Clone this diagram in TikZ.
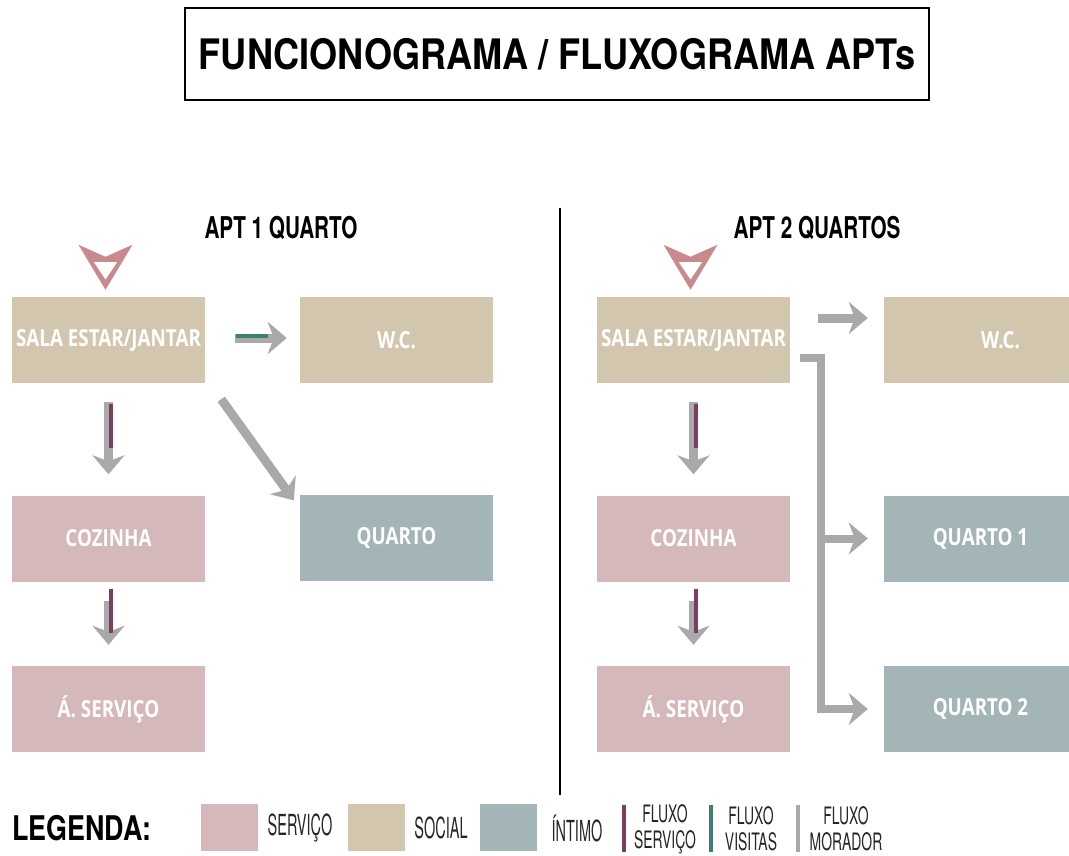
\documentclass[tikz,border=0pt]{standalone}
\usepackage{fontspec}
\setmainfont{TeX Gyre Heros}
\newfontfamily\boxfont{Open Sans}
\usetikzlibrary{arrows.meta,calc}
\definecolor{servico}{HTML}{D4B8BA}
\definecolor{social}{HTML}{D3C6AF}
\definecolor{intimo}{HTML}{A3B5B6}
\definecolor{tri}{HTML}{C98A8D}
\definecolor{fservico}{HTML}{7D3D5E}
\definecolor{fvisitas}{HTML}{3E7F74}
\definecolor{fmorador}{HTML}{A9A9A9}
\definecolor{legtext}{HTML}{262626}
\newcommand\roomlbl[1]{\scalebox{0.8}[1]{#1}}
\newcommand\leglbl[1]{\scalebox{0.5}[1]{#1}}
\newcommand\flxlbl[1]{\scalebox{0.58}[1]{#1}}
\begin{document}
\begin{tikzpicture}[x=1pt,y=-1pt,
  room/.style={rectangle, minimum width=193pt, minimum height=86pt, inner sep=0pt,
    text=white, font=\boxfont\bfseries\fontsize{23.5}{23.5}\selectfont},
  srv/.style={room, fill=servico},
  soc/.style={room, fill=social},
  inti/.style={room, fill=intimo},
  flow/.style={draw=fmorador, line width=9pt, line cap=butt, line join=miter,
    -{Stealth[length=19pt, width=32pt, inset=6pt, fill=fmorador]}},
  stripe/.style={line width=4.5pt, line cap=butt},
  swatch/.style={rectangle, minimum width=57pt, minimum height=47pt, inner sep=0pt},
  legbar/.style={rectangle, minimum width=4pt, minimum height=47pt, inner sep=0pt},
  legtxt/.style={text=legtext, font=\fontsize{29}{29}\selectfont, inner sep=0pt},
  fltxt/.style={text=legtext, font=\fontsize{24}{26}\selectfont, inner sep=0pt, align=center},
  apt/.style={font=\bfseries\fontsize{30}{30}\selectfont, inner sep=0pt}
]
\useasboundingbox (0,0) rectangle (1069,856);
\clip (0,0) rectangle (1069,856);
\fill[white] (0,0) rectangle (1069,856);

% title
\node[draw=black, line width=2.5pt, minimum width=744pt, minimum height=92pt, inner sep=0pt,
  font=\bfseries\fontsize{42}{42}\selectfont] (title) at (557,54)
  {\scalebox{0.86}[1]{FUNCIONOGRAMA / FLUXOGRAMA APTs}};

% section titles
\node[apt] (apt1) at (281,228) {\scalebox{0.69}[1]{APT 1 QUARTO}};
\node[apt] (apt2) at (817,228) {\scalebox{0.69}[1]{APT 2 QUARTOS}};

% divider
\coordinate (dtop) at (560,208);
\coordinate (dbot) at (560,795);
\draw[line width=1.6pt] (dtop) -- (dbot);

% ---------- APT 1 ----------
\node[soc] (salaL) at (108.5,340) {\roomlbl{SALA ESTAR/JANTAR}};
\node[soc] (wcL) at (396.5,340) {\roomlbl{W.C.}};
\node[srv] (cozL) at (108.5,538.5) {\roomlbl{COZINHA}};
\node[inti] (quartoL) at (396.5,537.5) {\roomlbl{QUARTO}};
\node[srv] (servL) at (108.5,709) {\roomlbl{Á. SERVIÇO}};

% ---------- APT 2 ----------
\node[soc] (salaR) at (693.5,340) {\roomlbl{SALA ESTAR/JANTAR}};
\node[soc] (wcR) at (980.5,340) {\roomlbl{\hspace*{50pt}W.C.}};
\node[srv] (cozR) at (693.5,538.5) {\roomlbl{COZINHA}};
\node[inti] (q1R) at (980.5,538.5) {\roomlbl{QUARTO 1}};
\node[srv] (servR) at (693.5,709) {\roomlbl{Á. SERVIÇO}};
\node[inti] (q2R) at (980.5,709) {\roomlbl{QUARTO 2}};

% entrance markers
\foreach \b in {salaL,salaR}{
  \fill[tri, even odd rule] ($(\b.north)+(-3,-7)$) -- ++(-27,-45) -- ++(27,12) -- ++(27,-12) -- cycle
    ($(\b.north)+(-3,-17)$) -- ++(-12,-18) -- ++(24,0) -- cycle;
}

% ---------- APT 1 flows ----------
\draw[flow, shorten <=30pt, shorten >=13pt] ([yshift=2pt]salaL.east) -- ([yshift=2pt]wcL.west);
\draw[stripe, draw=fvisitas] ($(salaL.east)+(31,-4.25)$) -- ($(salaL.east)+(63,-4.25)$);

\draw[flow, shorten <=19pt, shorten >=21pt] (salaL.south) -- (cozL.north);
\draw[stripe, draw=fservico] ($(salaL.south)+(2.25,21)$) -- ($(salaL.south)+(2.25,65)$);

\draw[flow, shorten <=19pt, shorten >=21pt] (cozL.south) -- (servL.north);
\draw[stripe, draw=fservico] ($(cozL.south)+(2.25,7)$) -- ($(cozL.south)+(2.25,51)$);

\coordinate (dstart) at ($(salaL.south east)+(16,16)$);
\coordinate (dend) at ($(quartoL.north west)+(-6,6)$);
\draw[flow] (dstart) -- (dend);

% ---------- APT 2 flows ----------
\draw[flow, shorten <=28pt, shorten >=16pt] ([yshift=22pt]salaR.east) -- ([yshift=22pt]wcR.west);

\draw[flow, shorten <=19pt, shorten >=21pt] (salaR.south) -- (cozR.north);
\draw[stripe, draw=fservico] ($(salaR.south)+(2.25,21)$) -- ($(salaR.south)+(2.25,65)$);

\draw[flow, shorten <=19pt, shorten >=21pt] (cozR.south) -- (servR.north);
\draw[stripe, draw=fservico] ($(cozR.south)+(2.25,7)$) -- ($(cozR.south)+(2.25,51)$);

\coordinate (bstart) at ($(salaR.east)+(10,18)$);
\coordinate (trunk) at ($(salaR.east)+(31,18)$);
\draw[flow, line width=8pt, shorten >=16pt] (bstart) -- (trunk) |- (q2R.west);
\draw[flow, line width=8pt, shorten >=16pt] (trunk |- q1R.west) -- (q1R.west);

% ---------- legend ----------
\node[font=\bfseries\fontsize{34}{34}\selectfont, inner sep=0pt] (legenda) at (82,828)
  {\scalebox{0.79}[1]{LEGENDA:}};
\node[swatch, fill=servico] (swS) at (229,827) {};
\node[legtxt] (lS) at (300,828) {\leglbl{SERVIÇO}};
\node[swatch, fill=social] (swO) at (376,827) {};
\node[legtxt] (lO) at (441,828) {\leglbl{SOCIAL}};
\node[swatch, fill=intimo] (swI) at (508.5,827) {};
\node[legtxt] (lI) at (577,828) {\leglbl{ÍNTIMO}};
\node[legbar, fill=fservico] (bS) at (624,828) {};
\node[fltxt] (fS) at (665,829) {\flxlbl{FLUXO}\\\flxlbl{SERVIÇO}};
\node[legbar, fill=fvisitas] (bV) at (711,828) {};
\node[fltxt] (fV) at (751,829) {\flxlbl{FLUXO}\\\flxlbl{VISITAS}};
\node[legbar, fill=fmorador] (bM) at (798,828) {};
\node[fltxt] (fM) at (846,829) {\flxlbl{FLUXO}\\\flxlbl{MORADOR}};
\end{tikzpicture}
\end{document}
